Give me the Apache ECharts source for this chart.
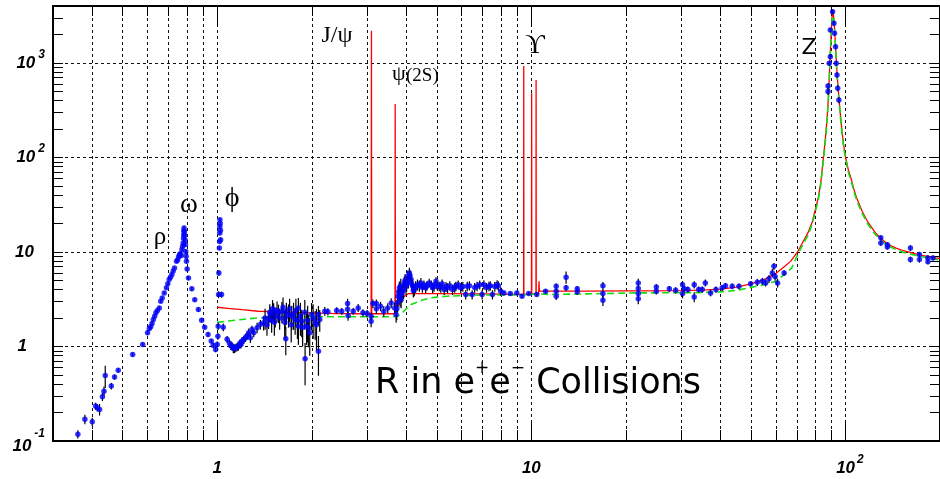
<!DOCTYPE html>
<html><head><meta charset="utf-8">
<script src="https://cdn.jsdelivr.net/npm/echarts@6/dist/echarts.min.js"></script>
<style>html,body{margin:0;padding:0;background:#fff}#c{width:940px;height:479px}</style>
</head><body><div id="c"></div><script>
// ---- axis ticks ----
const xMajor = [1, 10, 100];
const xMinor = [0.3,0.4,0.5,0.6,0.7,0.8,0.9,2,3,4,5,6,7,8,9,20,30,40,50,60,70,80,90,200];
const yMajor = [0.1, 1, 10, 100, 1000];
const yMinor = [0.2,0.3,0.4,0.5,0.6,0.7,0.8,0.9,2,3,4,5,6,7,8,9,20,30,40,50,60,70,80,90,200,300,400,500,600,700,800,900,2000,3000];

// ---- measured points [sqrt(s) GeV, R, error] ----
const lowPts = [[0.360,0.118,0.012],[0.379,0.170,0.02],[0.400,0.160,0.016],[0.410,0.234,0.02],[0.415,0.225,0.02],[0.422,0.216,0.03],[0.431,0.294,0.03],[0.436,0.337,0.04],[0.440,0.494,0.13],[0.460,0.381,0.03],[0.471,0.474,0.03],[0.484,0.562,0.03],[0.538,0.823,0.04],[0.579,1.05,0.05]];
const rhoPts = [[0.600,1.40,0.08],[0.608,1.55,0.08],[0.614,1.62,0.08],[0.620,1.75,0.08],[0.626,1.93,0.08],[0.632,2.09,0.1],[0.638,2.27,0.1],[0.645,2.40,0.1],[0.654,2.56,0.1],[0.661,3.01,0.12],[0.668,3.25,0.12],[0.678,3.69,0.12],[0.689,4.17,0.15],[0.696,4.6,0.15],[0.703,5.1,0.15],[0.710,5.4,0.15],[0.717,5.76,0.2],[0.724,6.3,0.2],[0.731,6.78,0.2],[0.742,7.95,0.3],[0.748,8.2,0.3],[0.753,8.85,0.3],[0.758,9.3,0.3],[0.762,9.6,0.4],[0.768,9.2,0.4],[0.772,10.6,0.5],[0.776,11.5,0.5],[0.779,12.4,0.6],[0.781,14.0,0.7],[0.782,15.2,0.8],[0.783,16.8,0.8],[0.784,17.9,0.9],[0.786,16.5,0.8],[0.788,15.0,0.8],[0.790,13.5,0.7],[0.792,12.0,0.6],[0.794,10.1,0.5],[0.796,9.0,0.4],[0.798,7.95,0.4],[0.802,6.6,0.3],[0.810,5.3,0.25],[0.830,4.07,0.2],[0.848,3.13,0.15],[0.871,2.46,0.12],[0.892,1.90,0.1],[0.912,1.60,0.08],[0.935,1.34,0.07],[0.957,1.14,0.06],[0.971,1.03,0.06],[0.988,0.93,0.06]];
const phiPts = [[1.000,1.05,0.08],[1.005,1.28,0.1],[1.007,1.64,0.15],[1.010,3.54,0.3],[1.012,6.0,0.4],[1.016,11.0,0.5],[1.018,12.9,0.6],[1.019,15.9,0.8],[1.019,18.6,0.9],[1.020,21.9,1.0],[1.022,20.0,1.0],[1.024,17.0,0.8],[1.025,13.5,0.7],[1.032,3.54,0.25],[1.045,1.6,0.15]];
const contPts = [[1.075,1.19,0.1],[1.094,1.08,0.1],[1.105,1.02,0.1],[1.115,1.01,0.1],[1.125,0.95,0.1],[1.135,0.95,0.1],[1.146,0.97,0.1],[1.157,0.99,0.1],[1.168,1.0,0.1],[1.18,1.08,0.1],[1.19,1.05,0.1],[1.20,1.14,0.12],[1.215,1.18,0.12],[1.23,1.24,0.12],[1.245,1.30,0.12],[1.26,1.40,0.15],[1.275,1.24,0.15],[1.29,1.51,0.15],[1.307,1.40,0.15],[1.339,1.58,0.2],[1.372,1.71,0.2],[1.405,1.78,0.3],
 [1.42,2.0,0.5],[1.44,1.7,0.4],[1.457,1.93,0.4],[1.47,2.3,0.5],[1.475,2.18,0.4],[1.49,1.9,0.5],[1.50,2.5,0.6],[1.512,2.36,0.5],[1.52,1.8,0.5],[1.53,2.09,0.5],[1.55,2.4,0.6],[1.567,2.27,0.5],[1.58,2.0,0.5],[1.606,2.36,0.6],[1.62,2.6,0.7],[1.64,1.8,0.6],[1.645,2.01,0.5],[1.653,1.21,0.4],[1.66,2.3,0.6],[1.686,2.18,0.6],[1.70,2.5,0.7],[1.72,1.7,0.6],[1.727,2.09,0.6],[1.75,2.2,0.7],[1.770,1.93,0.6],[1.78,2.4,0.8],[1.80,1.9,0.7],[1.813,2.56,0.7],[1.813,1.64,0.6],[1.84,2.1,0.8],[1.858,1.85,0.6],[1.87,1.6,0.6],[1.90,2.3,0.8],[1.904,0.74,0.35],[1.925,1.64,0.6],[1.94,1.9,0.8],[1.95,1.58,0.6],[1.97,1.4,0.6],[1.997,2.18,0.7],[2.02,2.0,0.8],[2.05,1.78,0.6],[2.07,1.7,0.8],[2.10,0.89,0.4],[2.10,2.18,0.5],[2.12,1.93,0.5]];
const charmPts = [[2.2,2.36,0.25],[2.25,2.33,0.2],[2.40,2.40,0.2],[2.49,2.36,0.2],[2.60,2.85,0.35],[2.60,2.48,0.3],[2.61,2.12,0.25],[2.71,2.36,0.2],[2.81,2.56,0.25],[2.91,2.27,0.2],[3.0,2.23,0.2],[3.09,2.09,0.2],[3.09,1.85,0.25],[3.13,2.85,0.3],[3.21,2.85,0.3],[3.21,2.5,0.3],[3.31,2.66,0.3],[3.39,2.36,0.3],[3.49,2.56,0.3],[3.58,2.89,0.35],[3.67,2.56,0.35],[3.71,2.18,0.4],
 [3.73,2.5,0.6],[3.75,2.9,0.6],[3.76,3.4,0.6],[3.78,3.8,0.7],[3.80,4.17,0.7],[3.82,3.3,0.7],[3.84,4.4,0.8],[3.85,3.13,0.6],[3.87,3.6,0.7],[3.89,3.84,0.7],[3.92,4.0,0.8],[3.94,4.7,0.8],[3.96,5.0,0.8],[3.99,4.33,0.8],[4.01,4.6,0.8],[4.04,5.53,0.8],[4.06,4.9,0.8],[4.09,6.0,0.8],[4.11,5.6,0.8],[4.14,5.1,0.8],[4.16,4.6,0.7],[4.19,4.33,0.7],[4.21,3.9,0.6],[4.24,4.0,0.6],[4.28,4.3,0.6],[4.34,4.51,0.6],[4.40,4.4,0.6],[4.45,4.7,0.6],[4.5,4.2,0.5],[4.55,4.5,0.5],[4.61,4.17,0.5],[4.65,4.4,0.5],[4.73,4.7,0.5],[4.8,4.5,0.5],[4.85,4.17,0.5],[4.9,4.3,0.5],[4.97,4.89,0.5],[5.0,4.5,0.5],[5.09,4.33,0.5],[5.15,4.2,0.5],[5.2,4.6,0.5],[5.28,4.0,0.5],[5.35,4.3,0.5],[5.41,4.17,0.5],[5.5,4.4,0.5],[5.61,4.0,0.5],[5.7,4.2,0.5],[5.75,4.33,0.5],[5.85,4.5,0.5],[5.96,4.17,0.5],[6.05,4.3,0.5],[6.18,3.54,0.4],[6.25,4.33,0.5],[6.35,4.4,0.5],[6.48,3.54,0.4],[6.6,4.2,0.5],[6.72,4.33,0.5],[6.85,4.5,0.5],[6.97,3.54,0.4],[7.06,4.51,0.5],[7.2,4.2,0.5],[7.33,4.33,0.5],[7.4,4.4,0.5],[7.52,3.54,0.4],[7.65,4.3,0.5],[7.78,4.51,0.5],[7.85,4.4,0.5],[7.99,3.84,0.4],[8.18,3.69,0.2],[8.57,3.63,0.15],[8.99,3.69,0.15],[9.34,3.4,0.15],[9.81,3.63,0.15],[10.4,3.54,0.15]];
const highPts = [[11.1,3.84,0.2],[12.0,4.33,0.3],[12.0,3.84,0.3],[12.0,3.4,0.3],[12.9,5.4,0.8],[12.9,4.17,0.3],[14.0,4.07,0.3],[14.0,3.8,0.3],[16.9,4.4,0.4],[16.9,3.63,0.4],[16.9,3.08,0.4],[21.9,4.7,0.5],[21.9,4.1,0.4],[21.9,3.63,0.4],[21.9,3.19,0.4],[25.0,4.26,0.3],[25.0,3.84,0.3],[27.5,4.07,0.3],[28.8,3.93,0.3],[30.3,4.51,0.4],[30.3,3.63,0.4],[30.7,4.07,0.3],[31.5,4.0,0.3],[33.0,4.51,0.4],[33.0,3.34,0.4],[34.1,4.0,0.3],[35.0,4.0,0.3],[35.8,4.7,0.4],[37.2,3.69,0.3],[38.7,4.0,0.3],[40.5,4.17,0.3],[41.5,4.4,0.3],[43.6,4.33,0.3],[45.8,4.33,0.3],[49.9,4.6,0.3],[52.4,4.77,0.4],[54.4,4.89,0.4],[55.7,4.7,0.4],[57.1,5.2,0.5],[58.5,6.0,0.6],[59.2,7.06,0.6],[59.7,5.5,0.5],[60.8,4.7,0.5],[63.8,6.0,0.4]];
const zPts = [[88.0,570,40],[88.0,497,40],[88.8,990,60],[89.5,2224,120],[89.5,1162,70],[91.0,3475,200],[91.9,2620,150],[92.3,2055,120],[93.0,1483,90],[93.5,990,60],[94.0,745,50],[94.5,540,40],[95.3,405,30],[129.6,14.1,0.8],[129.6,12.4,0.8],[136,11.9,0.7],[136,11.3,0.7],[161,11.0,0.8],[161,8.3,0.6],[172,9.4,0.6],[172,8.3,0.6],[183,8.65,0.6],[183,7.9,0.5],[190,8.65,0.5]];

// ---- QCD prediction with resonances (red) ----
const redX = [1.0,1.1,1.2,1.35,1.6,1.8,2.0,2.4,3.0,3.090,3.097,3.104,3.5,3.680,3.686,3.692,3.73,3.80,3.9,4.05,5,7,9.0,9.45,9.46,9.47,10.01,10.023,10.035,10.345,10.355,10.365,10.55,10.58,10.61,11,15,20,30,35,40,45,50,55,60,64,67,70.4,73,76,78.5,80.4,82,83.5,85.4,86.5,87.4,88.2,88.7,89.1,89.6,90.1,90.6,91.1,91.5,92.0,92.5,93.0,93.7,94.5,95.4,96.5,97.5,98.7,100,102,104.5,107,109,113,118,124.5,130,137,145,153,162.7,175,188,200];
const redY = [2.60,2.52,2.45,2.36,2.32,2.30,2.27,2.23,2.22,2.22,2188,2.22,2.22,2.22,368,2.3,2.4,2.9,3.3,3.62,3.62,3.6,3.56,3.55,927,3.55,3.6,477,3.6,3.6,660,3.6,3.6,4.9,3.85,3.85,3.86,3.88,3.9,3.94,4.05,4.25,4.6,5.1,5.9,7.0,8.0,10,12.5,16,21,29,38,55,111,170,260,411,620,926,1400,2100,3000,3650,3500,2800,2100,1500,930,620,411,270,190,135,103,75,58,43,36,27,20.5,16,13.8,12,11,10.3,9.8,9.2,8.8,8.5];
// ---- naive quark model (green dashed) ----
const greenX = [1.0,1.1,1.2,1.35,1.6,2.0,2.6,3.2,3.6,3.76,3.9,4.04,4.14,4.34,4.5,4.79,5.0,5.41,6.0,7.0,8.0,9.4,10.0,10.5,11.4,15,21.6,30,35,40,45,49.2,55,60,64,67.5,70.4,73,76,78.5,80.4,82,83.5,85.4,86.5,87.4,88.2,88.7,89.1,89.6,90.1,90.6,91.1,91.5,92.0,92.5,93.0,93.7,94.5,95.4,96.5,97.5,98.7,100,102,104.5,107,109,113,118,124.5,130,137,145,153,162.7,175,188,200];
const greenY = [1.80,1.87,1.93,2.01,2.04,2.06,2.06,2.06,2.06,2.09,2.3,2.6,2.78,2.95,3.1,3.27,3.33,3.4,3.45,3.5,3.5,3.5,3.55,3.6,3.55,3.6,3.69,3.7,3.72,3.78,3.92,4.17,4.5,4.89,5.8,6.8,9.3,11.8,15,20,27.5,36,52,105,160,245,390,590,880,1340,2000,2900,3600,3450,2700,2000,1430,880,590,390,255,180,128,98,71,55,41,34,25.8,19.6,15.3,13.2,11.5,10.6,9.9,9.4,8.9,8.5,8.2];

const allPts = [].concat(lowPts, rhoPts, phiPts, contPts, charmPts, highPts, zPts);
const pointData = allPts.map(p => [p[0], p[1]]);
const errData = allPts.map(p => [p[0], p[1] - p[2], p[1] + p[2]]);
const redData = redX.map((x, i) => [x, redY[i]]);
const greenData = greenX.map((x, i) => [x, greenY[i]]);

const FONT = "'Liberation Sans', Arial, sans-serif";
const SERIF = "'Liberation Serif','DejaVu Serif','Times New Roman',serif";
const SANS2 = "'DejaVu Sans', sans-serif";
const labBase = {fontFamily: FONT, fontWeight: 'bold', fontStyle: 'italic', color: '#000'};
const expo = v => Math.round(Math.log10(v));

const xRich = {
  b: Object.assign({fontSize: 17, padding: [6, 0, 0, 0]}, labBase),
  s: Object.assign({fontSize: 12, verticalAlign: 'top', padding: [0, 0, 0, 2]}, labBase),
  sp: {width: 9}
};
const yRich = {
  b: Object.assign({fontSize: 17, padding: [6, 0, 6, 0]}, labBase),
  bl: Object.assign({fontSize: 17, padding: [10, 0, 0, 0]}, labBase),
  s: Object.assign({fontSize: 12, verticalAlign: 'top', padding: [0, 0, 0, 3]}, labBase),
  p1: {width: 11},
  p2: {width: 18}
};
const dash = {type: [3, 3], color: '#111', width: 1};
const tickStyle = {color: '#000', width: 1};

function xAx(extra) {
  return Object.assign({type: 'log', logBase: 10, min: 0.3, max: 200, axisLine: {show: false, onZero: false},
    axisLabel: {show: false}, splitLine: {show: false}, axisTick: {show: false}}, extra);
}
function yAx(extra) {
  return Object.assign({type: 'log', logBase: 10, min: 0.1, max: 4000, axisLine: {show: false, onZero: false},
    axisLabel: {show: false}, splitLine: {show: false}, axisTick: {show: false}}, extra);
}
function txt(x, y, text, size, family, align) {
  return {type: 'text', x: x, y: y, z: 10, style: {text: text, fontSize: size, fontFamily: family, fill: '#000', align: align || 'center', verticalAlign: 'middle'}};
}

const chart = echarts.init(document.getElementById('c'), null, {renderer: 'canvas'});
chart.setOption({
  animation: false,
  backgroundColor: '#fff',
  grid: {left: 53, top: 6, right: -5, bottom: 38},
  xAxis: [
    xAx({position: 'bottom', axisLine: {show: true, onZero: false, lineStyle: {color: '#000', width: 2}},
      axisTick: {show: true, inside: true, length: 21, customValues: xMajor, lineStyle: tickStyle},
      splitLine: {show: true, lineStyle: dash},
      axisLabel: {show: true, customValues: xMajor, margin: 13, rich: xRich,
        formatter: v => { const e = expo(v); return e === 0 ? '{b|1}' : e === 1 ? '{b|10}' : '{sp| }{b|10}{s|' + e + '}'; }}}),
    xAx({position: 'bottom', axisTick: {show: true, inside: true, length: 11, customValues: xMinor, lineStyle: tickStyle},
      splitLine: {show: true, lineStyle: dash}}),
    xAx({position: 'top', axisLine: {show: true, onZero: false, lineStyle: {color: '#000', width: 2}},
      axisTick: {show: true, inside: true, length: 10, customValues: xMinor, lineStyle: tickStyle}}),
    xAx({position: 'top', axisTick: {show: true, inside: true, length: 20, customValues: xMajor, lineStyle: tickStyle}})
  ],
  yAxis: [
    yAx({position: 'left', axisLine: {show: true, onZero: false, lineStyle: {color: '#000', width: 2}},
      axisTick: {show: true, inside: true, length: 10, customValues: yMajor, lineStyle: tickStyle},
      splitLine: {show: true, lineStyle: dash},
      axisLabel: {show: true, customValues: yMajor, margin: 8, rich: yRich,
        formatter: v => { const e = expo(v); if (e >= 2) return '{b|10}{s|' + e + '}'; if (e === 1) return '{b|10}{p1| }'; if (e === 0) return '{b|1}{p2| }'; return '{bl|10}{s|' + e + '}'; }}}),
    yAx({position: 'left', axisTick: {show: true, inside: true, length: 10, customValues: yMinor, lineStyle: tickStyle}}),
    yAx({position: 'right', axisLine: {show: true, onZero: false, lineStyle: {color: '#000', width: 2}},
      axisTick: {show: true, inside: true, length: 10, customValues: yMajor.concat(yMinor), lineStyle: tickStyle}})
  ],
  series: [
    {type: 'line', name: 'naive', data: greenData, showSymbol: false, symbol: 'none', z: 3, clip: true,
      lineStyle: {color: '#11dd11', width: 1.6, type: [7, 4]}},
    {type: 'line', name: 'qcd', data: redData, showSymbol: false, symbol: 'none', z: 2, clip: true,
      lineStyle: {color: '#ff0000', width: 1.3}},
    {type: 'custom', name: 'err', data: errData, z: 4, clip: true,
      encode: {x: 0, y: [1, 2]},
      renderItem: (params, api) => {
        const a = api.coord([api.value(0), api.value(1)]);
        const b = api.coord([api.value(0), api.value(2)]);
        return {type: 'line', shape: {x1: a[0], y1: a[1], x2: b[0], y2: b[1]}, style: {stroke: '#000', lineWidth: 1.2}};
      }},
    {type: 'scatter', name: 'data', data: pointData, symbol: 'circle', symbolSize: 5.5, z: 5, clip: true,
      itemStyle: {color: '#0000ff'}}
  ],
  graphic: [
    txt(160, 237, 'ρ', 25, SERIF),
    txt(189, 205, 'ω', 27, SERIF),
    txt(232, 199, 'ϕ', 28, SERIF),
    txt(337, 36, 'J/ψ', 24, SERIF),
    txt(392, 74, 'ψ', 22, SERIF, 'left'),
    txt(406, 76, '(2S)', 19, SERIF, 'left'),
    txt(535, 46, 'ϒ', 27, SERIF),
    txt(809, 48, 'Z', 22, SANS2),
    {type: 'text', x: 375, y: 360, z: 10, style: {text: '{a|R in e}{s|+}{a|e}{s|−}{a| Collisions}', align: 'left', verticalAlign: 'top',
      rich: {a: {fontSize: 35, fontFamily: SANS2, color: '#000', padding: [6, 0, 0, 0]},
             s: {fontSize: 17, fontFamily: SANS2, color: '#000', verticalAlign: 'top'}}}}
  ]
});
</script></body></html>
